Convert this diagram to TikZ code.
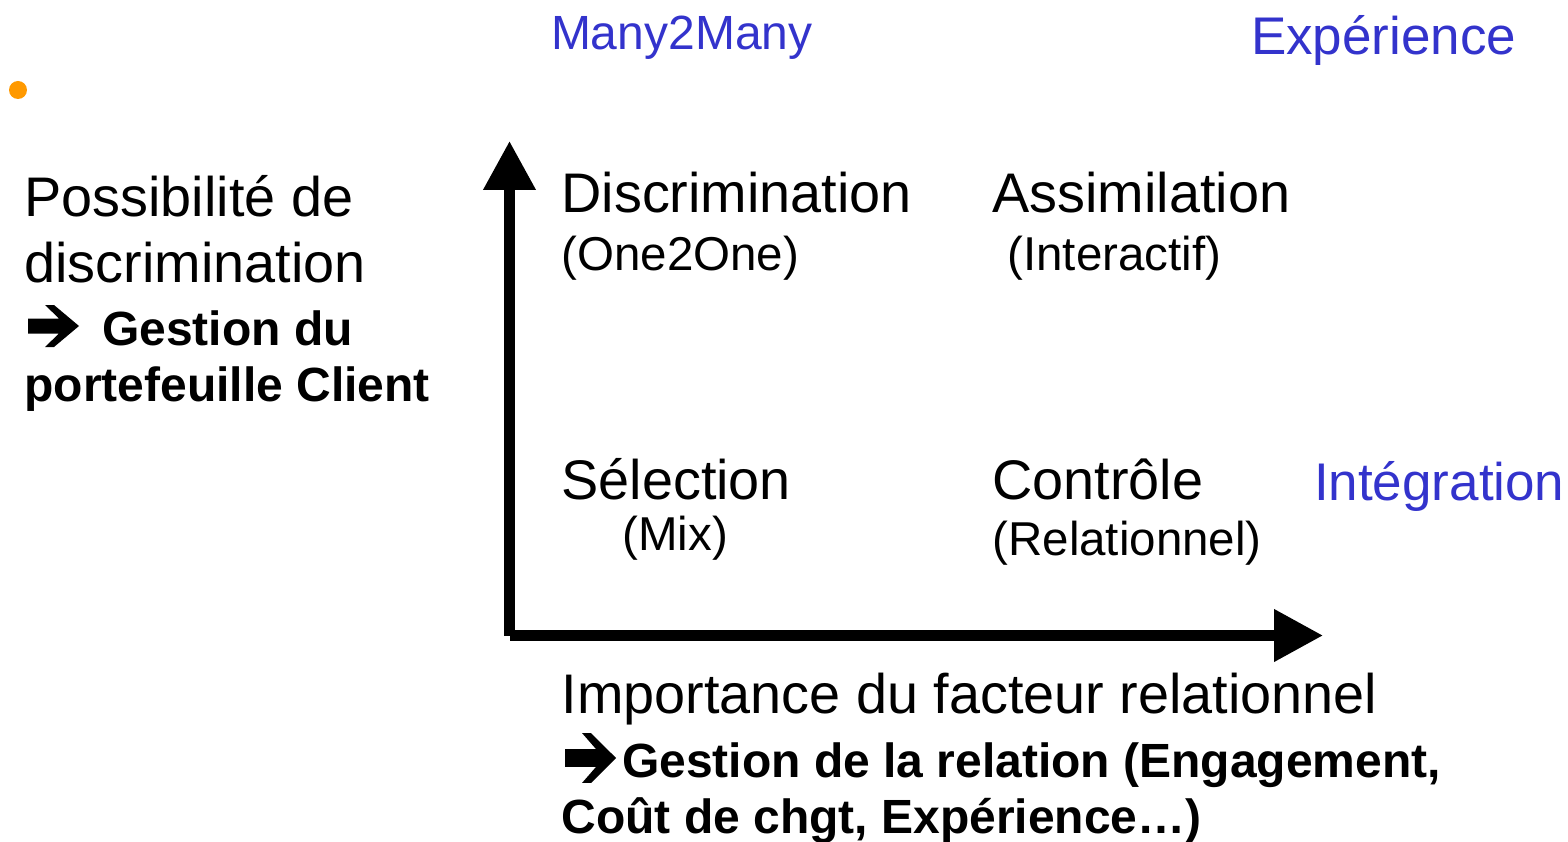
\documentclass[tikz,border=0pt]{standalone}
\usepackage{fontspec}
\setmainfont{Liberation Sans}
\usetikzlibrary{arrows.meta}
\definecolor{titleblue}{RGB}{51,51,204}
\definecolor{dotorange}{RGB}{255,153,0}
\tikzset{
  txt/.style={anchor=base west, inner sep=0pt, outer sep=0pt},
  big/.style={txt, font=\fontsize{55.8pt}{66pt}\selectfont},
  small/.style={txt, font=\fontsize{47.5pt}{56pt}\selectfont},
  strong/.style={txt, font=\fontsize{48pt}{57pt}\selectfont\bfseries},
  bluebig/.style={txt, text=titleblue, font=\fontsize{53pt}{63pt}\selectfont},
  bluesmall/.style={txt, text=titleblue, font=\fontsize{48pt}{57pt}\selectfont},
  axis/.style={line width=10.5pt, -{Triangle[width=50pt,length=49pt]}},
  % heavy right arrow used in front of the bold lines
  fatarrow/.pic={
    \fill (0,-7.5) -- (31,-7.5) -- (17,-21) -- (26,-21) -- (51,0)
          -- (26,21) -- (17,21) -- (31,7.5) -- (0,7.5) -- cycle;
  }
}
\begin{document}
\begin{tikzpicture}[x=1pt,y=-1pt]
\useasboundingbox (0,0) rectangle (1568,842);

% bullet
\fill[dotorange] (18,90) circle (9);

% axes
\coordinate (origin) at (509.5,635.5);
\coordinate (ytip) at (509.5,141);
\coordinate (xtip) at (1323,635.5);
\draw[axis] (origin) -- (ytip);
\draw[axis] (origin) -- (xtip);

% corner titles
\node[bluesmall] (many) at (551,50) {Many2Many};
\node[bluebig] (exp) at (1251,55) {Expérience};
\node[bluebig] (integ) at (1314,500) {Intégration};

% vertical axis caption
\node[big] (poss1) at (24.5,217) {Possibilité de};
\node[big] (poss2) at (24.5,283) {discrimination};
\pic at (28,326) {fatarrow};
\node[strong] (gest1) at (102,345) {Gestion du};
\node[strong] (gest2) at (24.5,401) {portefeuille Client};

% quadrants
\node[big] (disc) at (561.5,213) {Discrimination};
\node[small] (one) at (561.5,270) {(One2One)};
\node[big] (assim) at (992.5,213) {Assimilation};
\node[small] (inter) at (1007.5,270) {(Interactif)};
\node[big] (sel) at (561.5,499) {Sélection};
\node[small] (mix) at (622.5,550) {(Mix)};
\node[big] (ctrl) at (992.5,499) {Contrôle};
\node[small] (rel) at (992.5,555) {(Relationnel)};

% horizontal axis caption
\node[big] (imp) at (561.5,713) {Importance du facteur relationnel};
\pic[yscale=1.19] at (565,758) {fatarrow};
\node[strong] (grel1) at (622,777) {Gestion de la relation (Engagement,};
\node[strong] (grel2) at (561.5,833) {Coût de chgt, Expérience…)};
\end{tikzpicture}
\end{document}
